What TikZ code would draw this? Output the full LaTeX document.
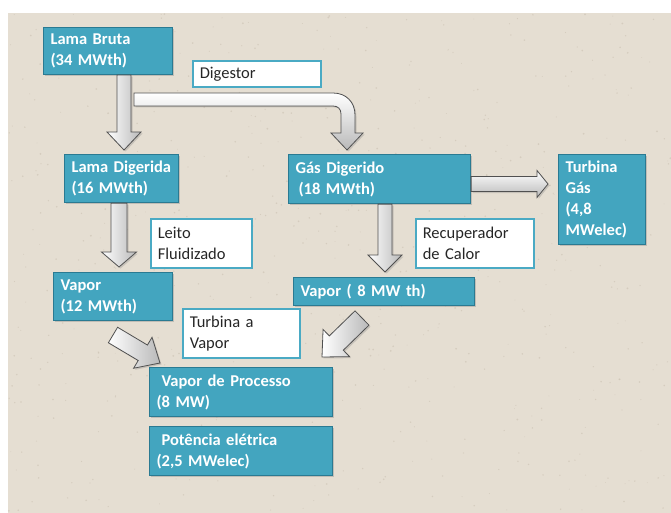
\documentclass[tikz,border=0pt]{standalone}
\usepackage{fontspec}
\setmainfont{Carlito}
\usetikzlibrary{calc,shadows}

\definecolor{paper}{RGB}{229,222,210}
\definecolor{speck}{RGB}{200,190,174}
\definecolor{tealfill}{RGB}{67,165,191}
\definecolor{tealedge}{RGB}{42,122,146}
\definecolor{tagedge}{RGB}{74,170,196}
\definecolor{tagtext}{RGB}{38,38,38}
\definecolor{arrowedge}{RGB}{80,80,80}

\tikzset{
  databox/.style={draw=tealedge, line width=1.1pt, fill=tealfill, anchor=north west,
    inner xsep=7pt, inner ysep=0pt, align=left, text=white,
    font=\bfseries\fontsize{16.5}{21}\selectfont,
    drop shadow={opacity=0.35, shadow xshift=1.5pt, shadow yshift=-1.5pt}},
  tagbox/.style={draw=tagedge, line width=1.6pt, fill=white, anchor=north west,
    inner xsep=7pt, inner ysep=0pt, align=left, text=tagtext,
    font=\fontsize{16.5}{21}\selectfont},
  blockbody/.style={draw=arrowedge, line width=0.8pt, line join=miter,
    left color=white, right color=gray!55,
    drop shadow={opacity=0.3, shadow xshift=1.5pt, shadow yshift=-1.5pt}},
}

% shaded block arrow from #2 (tail) to #3 (tip):
% #4 half shaft width, #5 half head width, #6 head length
\newcommand\blockarrow[6][]{%
  \draw[blockbody,#1]
    ($(#2)!#4!90:(#3)$) --
    ($(#3)!#6!(#2)!#4!-90:(#2)$) --
    ($(#3)!#6!(#2)!#5!-90:(#2)$) --
    (#3) --
    ($(#3)!#6!(#2)!#5!90:(#2)$) --
    ($(#3)!#6!(#2)!#4!90:(#2)$) --
    ($(#2)!#4!-90:(#3)$) -- cycle;
}

\begin{document}
\begin{tikzpicture}[x=1pt,y=-1pt]
  % page and textured paper
  \fill[white] (0,0) rectangle (671,513);
  \useasboundingbox (0,0) rectangle (671,513);
  \fill[paper] (8,13) rectangle (671,513);
  \pgfmathsetseed{11}
  \foreach \i in {1,...,700}{
    \fill[speck, opacity=0.55] (8+rnd*663, 13+rnd*500) circle ({0.4+rnd*0.6});
  }

  % process stages
  \node[databox, minimum width=129, minimum height=47, text width=115] (lb) at (43,27)
    {Lama Bruta\\(34 MWth)};
  \node[databox, minimum width=114, minimum height=48, text width=100] (ld) at (64,154)
    {Lama Digerida\\(16 MWth)};
  \node[databox, minimum width=182, minimum height=49, text width=168] (gd) at (288,154)
    {Gás Digerido\\\hspace*{3pt}(18 MWth)};
  \node[databox, minimum width=87, minimum height=90, text width=73] (tg) at (558,154)
    {Turbina\\Gás\\(4,8\\MWelec)};
  \node[databox, minimum width=119, minimum height=48, text width=105] (v12) at (53,272)
    {Vapor\\(12 MWth)};
  \node[databox, minimum width=181, minimum height=28, text width=167] (v8) at (293,277)
    {Vapor ( 8 MW th)};
  \node[databox, minimum width=183, minimum height=49, text width=169] (vp) at (149,367)
    {\hspace*{5pt}Vapor de Processo\\(8 MW)};
  \node[databox, minimum width=183, minimum height=49, text width=169] (pe) at (149,426)
    {\hspace*{5pt}Potência elétrica\\(2,5 MWelec)};

  % equipment labels
  \node[tagbox, minimum width=128, minimum height=26, text width=114] (dig) at (192,60)
    {Digestor};
  \node[tagbox, minimum width=101, minimum height=49, text width=87] (lf) at (150,218)
    {Leito\\Fluidizado};
  \node[tagbox, minimum width=118, minimum height=49, text width=104] (rc) at (415,218)
    {Recuperador\\de Calor};
  \node[tagbox, minimum width=117, minimum height=49, text width=103] (tv) at (182,308)
    {Turbina a\\Vapor};

  % arrow tips
  \coordinate (tip1) at (124,150);
  \coordinate (tip3) at (119,267);
  \coordinate (tip4) at (385,272);
  \coordinate (tip5) at (548,184);
  \coordinate (tail6) at (113,335);
  \coordinate (tip6) at (160,363);
  \coordinate (tail7) at (362,318);
  \coordinate (tip7) at (322,357);

  % flows
  \blockarrow{tip1 |- lb.south}{tip1}{7pt}{17pt}{18pt}
  \blockarrow{tip3 |- ld.south}{tip3}{8pt}{17.5pt}{15pt}
  \blockarrow{tip4 |- gd.south}{tip4}{7pt}{17pt}{17pt}
  \blockarrow[top color=white, bottom color=gray!55]{tip5 -| gd.east}{tip5}{7.5pt}{13.5pt}{11pt}
  \blockarrow{tail6}{tip6}{9pt}{18pt}{20pt}
  \blockarrow{tail7}{tip7}{10pt}{19pt}{20pt}

  % digester branch, bent down to the gas stage
  \draw[blockbody, top color=white, bottom color=gray!55]
    (134,93) -- (333,93) .. controls (346,93) and (355,102) .. (355,115)
    -- (355,133) -- (363,133) -- (347,150) -- (331,133) -- (341,133)
    -- (341,114) .. controls (341,109) and (338,106) .. (333,106)
    -- (134,106) -- cycle;
\end{tikzpicture}
\end{document}
